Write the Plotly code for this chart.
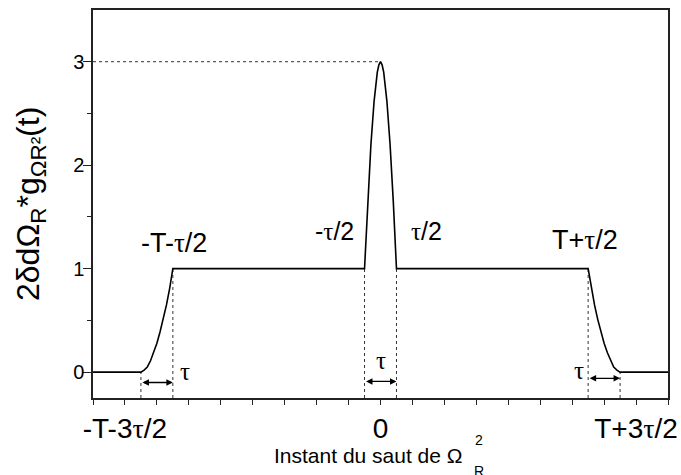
import plotly.graph_objects as go

# curve pieces (x in units of tau, y in units of the plateau)
ramp_x = [-9.0, -7.5, -7.4, -7.3, -7.2, -7.1, -7.0, -6.9, -6.8, -6.7, -6.6, -6.5]
ramp_y = [0.0, 0.0, 0.02, 0.05, 0.11, 0.19, 0.28, 0.39, 0.51, 0.65, 0.81, 1.0]
peak_x = [-0.5, -0.45, -0.4, -0.3, -0.2, -0.1, -0.05, 0.0, 0.05, 0.1, 0.2, 0.3, 0.4, 0.45, 0.5]
peak_y = [1.0, 1.3, 1.65, 2.2, 2.62, 2.9, 2.97, 3.0, 2.97, 2.9, 2.62, 2.2, 1.65, 1.3, 1.0]
fall_x = [6.5, 6.6, 6.7, 6.8, 6.9, 7.0, 7.1, 7.2, 7.3, 7.4, 7.5, 9.0]
fall_y = [1.0, 0.81, 0.65, 0.51, 0.39, 0.28, 0.19, 0.11, 0.05, 0.02, 0.0, 0.0]

# dotted guides
guide_x = [-7.5, -6.5, -0.5, 0.5, 6.5, 7.5]
guide_top = [0, 1, 1, 1, 1, 0]
peak_value = 3

# tau arrows (start, end, level)
arrow_start = [-7.5, -0.5, 6.5]
arrow_end = [-6.5, 0.5, 7.5]
arrow_level = [-0.1, -0.09, -0.06]

x_major = [-8, 0, 8]
x_major_text = ["-T-3τ/2", "0", "T+3τ/2"]
x_minor = [v for v in range(-9, 10) if v not in x_major]
y_major = [0, 1, 2, 3]
y_minor = [0.5, 1.5, 2.5]

TAU = '<span style="font-family:Liberation Serif">τ</span>'


def tau(s):
    return s.replace("τ", TAU)


FONT = "Liberation Sans, Arial, sans-serif"

fig = go.Figure()

for gx, gt in zip(guide_x, guide_top):
    fig.add_trace(go.Scatter(x=[gx, gx], y=[-0.25, gt], mode="lines",
                             line=dict(color="#333", width=1, dash="dot"),
                             hoverinfo="skip", showlegend=False))
fig.add_trace(go.Scatter(x=[-9, 0], y=[peak_value, peak_value], mode="lines",
                         line=dict(color="#333", width=1, dash="dot"),
                         hoverinfo="skip", showlegend=False))

curve_x = ramp_x + peak_x + fall_x
curve_y = ramp_y + peak_y + fall_y
fig.add_trace(go.Scatter(x=curve_x, y=curve_y, mode="lines",
                         line=dict(color="black", width=1.6),
                         showlegend=False))

annotations = []
for a0, a1, lv in zip(arrow_start, arrow_end, arrow_level):
    annotations.append(dict(x=a1, y=lv, ax=a0, ay=lv, xref="x", yref="y",
                            axref="x", ayref="y", text="", showarrow=True,
                            arrowhead=2, startarrowhead=2, arrowside="end+start",
                            arrowsize=1, arrowwidth=1.3, arrowcolor="black",
                            standoff=0, startstandoff=0))

labels = [
    ("-T-τ/2", -6.45, 1.25, 27),
    ("T+τ/2", 6.4, 1.28, 27),
    ("-τ/2", -1.44, 1.36, 25),
    ("τ/2", 1.44, 1.36, 25),
    ("τ", -6.13, 0.01, 25),
    ("τ", 0.0, 0.11, 25),
    ("τ", 6.22, 0.02, 25),
]
for txt, lx, ly, fs in labels:
    annotations.append(dict(x=lx, y=ly, xref="x", yref="y", text=tau(txt),
                            xanchor="center", yanchor="middle",
                            showarrow=False, font=dict(size=fs, color="black")))


def px(xp):
    return (xp - 93) / 575


def py(yp):
    return (398 - yp) / 388


# axis titles
annotations.append(dict(x=px(368), y=py(456), xref="paper", yref="paper",
                        xanchor="center", yanchor="middle",
                        text="Instant du saut de Ω", showarrow=False,
                        font=dict(size=21, color="black")))
annotations.append(dict(x=px(479), y=py(440), xref="paper", yref="paper",
                        xanchor="center", yanchor="middle",
                        text="2", showarrow=False, font=dict(size=14, color="black")))
annotations.append(dict(x=px(479), y=py(471), xref="paper", yref="paper",
                        xanchor="center", yanchor="middle",
                        text="R", showarrow=False, font=dict(size=14, color="black")))
annotations.append(dict(x=px(30), y=py(204), xref="paper", yref="paper",
                        xanchor="center", yanchor="middle",
                        text="2δdΩ<sub>R</sub>*g<sub>ΩR²</sub>(t)", textangle=-90,
                        showarrow=False, font=dict(size=32, color="black")))

fig.update_layout(
    width=681, height=475,
    margin=dict(l=93, r=13, t=10, b=77),
    paper_bgcolor="white", plot_bgcolor="white",
    font=dict(family=FONT, color="black"),
    annotations=annotations,
    showlegend=False,
)
fig.update_xaxes(
    range=[-9, 9], showgrid=False, zeroline=False, automargin=False,
    showline=True, linecolor="#222", linewidth=1.5, mirror=True,
    ticks="outside", ticklen=5, tickcolor="#222",
    tickvals=x_major, ticktext=[tau(t) for t in x_major_text],
    minor=dict(tickvals=x_minor, ticks="outside", ticklen=5, tickcolor="#222"),
    ticklabelstandoff=0,
    tickfont=dict(size=28, color="black"),
)
fig.update_yaxes(
    range=[-0.25, 3.5], showgrid=False, zeroline=False, automargin=False,
    showline=True, linecolor="#222", linewidth=1.5, mirror=True,
    ticks="outside", ticklen=8, tickcolor="#222",
    tickvals=y_major,
    minor=dict(tickvals=y_minor, ticks="outside", ticklen=4, tickcolor="#222"),
    ticklabelstandoff=-5,
    tickfont=dict(size=20, color="black"),
)

fig.write_html("out.html", config={"displayModeBar": False},
               post_script="document.body.style.margin='0';")
